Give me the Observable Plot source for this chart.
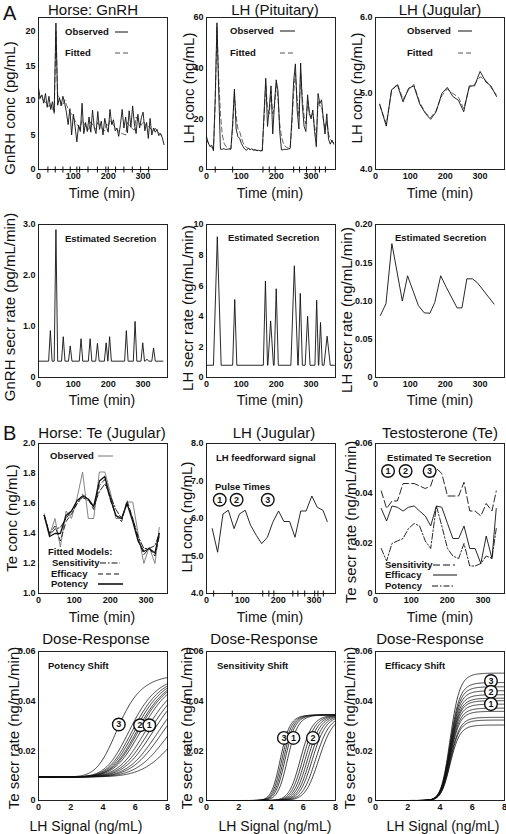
<!DOCTYPE html>
<html><head><meta charset="utf-8">
<script src="https://cdn.jsdelivr.net/npm/d3@7"></script>
<script src="https://cdn.jsdelivr.net/npm/@observablehq/plot@0.6"></script>
<style>
body{margin:0;background:#fff;}
#fig{position:relative;width:506px;height:834px;overflow:hidden;font-family:"Liberation Sans",Arial,sans-serif;color:#111;background:#fff;}
</style></head>
<body><div id="fig"></div>
<script>
// ---------------- DATA ----------------
// Panel A1: GnRH (pg/mL), 5-min samples
const gnrhTime = [0,5,10,15,20,25,30,35,40,45,50,55,60,65,70,75,80,85,90,95,100,105,110,115,120,125,130,135,140,145,150,155,160,165,170,175,180,185,190,195,200,205,210,215,220,225,230,235,240,245,250,255,260,265,270,275,280,285,290,295,300,305,310,315,320,325,330,335,340,345,350,355,360];
const gnrhObs = [11.8,10.3,10.8,9.6,11.0,9.0,10.6,8.7,9.8,8.3, 21.2,9.3,10.4,9.2,10.6,9.6,8.3,6.5,8.8,5.0, 8.0,6.2,4.0,6.4,5.5,9.6,5.2,6.8,5.5,7.6, 5.4,8.6,6.0,5.2,8.4,5.8,7.0,5.0,7.4,6.2, 5.4,8.7,6.5,7.2,5.6,6.0,4.8,6.5,8.7,6.0, 7.6,5.3,8.5,6.1,9.2,6.6,5.2,8.0,6.0,7.5, 8.3,5.6,6.8,4.5,7.4,5.0,6.0,5.4,5.8,4.9, 5.2,4.6,3.6];
const gnrhFit = [10.0,10.6,10.3,10.0,9.7,9.4,9.1,9.6,8.8,8.1, 20.0,10.8,10.2,9.7,9.3,10.1,9.4,8.8,8.3,8.0, 7.5,7.0,6.6,6.2,6.0,7.2,6.7,6.3,6.0,5.8, 6.9,6.5,6.1,5.8,6.8,6.4,6.1,5.8,5.6,6.6, 6.2,7.2,6.8,6.4,6.1,5.8,5.5,5.3,5.2,5.1, 5.0,6.8,6.4,6.1,5.9,5.7,7.6,7.1,6.7,6.4, 7.0,6.6,6.2,6.3,6.0,5.7,5.5,6.0,5.6,5.3, 5.1,4.9,4.8];
const gnrhPulseMarks = [27,48,70,91,110,118,142,169,193,200,221,245,269,293,316];

// Panel A2: LH pituitary (ng/mL), 5-min samples
const lhPitTime = [0,5,10,15,20,25,30,35,40,45,50,55,60,65,70,75,80,85,90,95,100,105,110,115,120,125,130,135,140,145,150,155,160,165,170,175,180,185,190,195,200,205,210,215,220,225,230,235,240,245,250,255,260,265,270,275,280,285,290,295,300,305,310,315,320,325,330,335,340,345,350,355,360,365];
const lhPitObs = [13.0,10.5,9.0,9.6,7.4,28.0,57.9,31.0,8.0,8.0, 8.2,7.9,8.0,8.1,8.0,18.0,31.7,16.0,13.0,12.3, 10.3,9.0,8.0,7.6,8.4,7.8,8.2,7.6,7.8,7.4, 7.6,7.3,7.5,22.0,36.0,17.0,24.0,33.0,14.0,26.0, 35.4,31.0,15.0,7.7,7.8,8.0,7.9,8.1,8.3,20.0, 35.0,41.7,23.5,16.0,42.0,25.0,17.0,15.0,29.5,22.0, 20.0,23.5,15.0,9.0,30.0,26.0,27.5,20.0,14.0,22.0, 12.0,10.0,11.6,10.0];
const lhPitFit = [12.0,10.5,9.4,8.8,8.4,26.0,56.0,36.0,22.0,14.0, 10.5,9.2,8.6,8.3,8.2,17.0,30.0,21.0,16.0,15.0, 12.5,10.5,9.3,8.7,8.3,8.1,7.9,7.8,7.7,7.6, 7.5,7.5,7.4,20.0,34.0,24.0,22.0,31.0,22.0,25.0, 34.0,28.0,18.0,13.0,10.5,9.3,8.7,8.4,8.2,18.0, 30.0,38.0,28.0,21.0,38.0,28.0,21.0,18.0,27.0,23.0, 21.0,22.0,17.0,13.0,27.0,25.0,25.0,20.0,16.0,19.0, 14.0,12.0,11.0,10.5];
const lhPulseMarks = [25,75,162,180,197,250,267,287,312,324,341];

// Panel A3: LH jugular (ng/mL)
const lhJugTime = [12,31,46,63,79,95,110,127,143,158,174,190,206,222,238,253,269,284,300,317,331,347];
const lhJugObs = [4.86,4.57,5.05,5.11,4.89,5.07,5.10,4.86,4.74,4.66,4.76,5.00,5.08,4.96,4.91,4.76,5.10,5.10,5.29,5.15,5.10,4.96];
const lhJugFit = [4.85,4.60,5.03,5.13,4.92,5.05,5.12,4.88,4.75,4.68,4.78,4.97,5.06,5.00,4.95,4.80,5.08,5.12,5.22,5.17,5.08,4.98];

// Panel A4: GnRH secretion pulses (pg/mL/min)
const gnrhSecBase = 0.32, gnrhSecStart = 0, gnrhSecEnd = 357;
const gnrhSecTimes = [34,50,71,91,122,148,169,194,204,252,277,299,311,330];
const gnrhSecHeights = [0.92,2.9,0.8,0.62,0.76,0.76,0.67,0.68,0.8,0.92,1.1,0.68,0.36,0.58];
const gnrhSecHalfWidth = [5,5,5,5,5,5,5,5,5,5,5,5,5,5];

// Panel A5: LH pituitary secretion pulses (ng/mL/min)
const lhSecBase = 0.8, lhSecStart = 0, lhSecEnd = 367;
const lhSecTimes = [31,81,169,184,200,252,269,290,316,327,346];
const lhSecHeights = [9.2,5.1,6.3,3.7,5.8,7.3,5.5,4.0,5.05,3.6,2.7];
const lhSecHalfWidth = [11,6,6,8,6,10,6,7,5,5,9];

// Panel A6: LH jugular secretion
const lhJugSecTime = [14,30,47,77,92,123,140,156,170,187,203,234,248,262,278,292,340];
const lhJugSecVal = [0.081,0.0965,0.175,0.100,0.133,0.094,0.0845,0.084,0.098,0.133,0.118,0.091,0.091,0.129,0.129,0.124,0.096];

// Panel B: jugular sampling grid
const teTime = [16,31,46,61,77,92,108,123,139,154,170,185,201,216,232,247,263,278,294,309,325,337];
const teObs = [1.53,1.39,1.50,1.31,1.55,1.50,1.64,1.81,1.50,1.50,1.81,1.81,1.67,1.50,1.50,1.61,1.61,1.40,1.20,1.31,1.20,1.44];
const teFitSens = [1.52,1.39,1.43,1.44,1.50,1.55,1.60,1.64,1.62,1.58,1.68,1.73,1.65,1.56,1.50,1.60,1.50,1.38,1.30,1.30,1.32,1.40];
const teFitEff = [1.52,1.40,1.45,1.35,1.48,1.53,1.60,1.66,1.63,1.56,1.72,1.76,1.62,1.52,1.48,1.62,1.50,1.36,1.26,1.30,1.25,1.38];
const teFitPot = [1.52,1.38,1.40,1.40,1.52,1.55,1.62,1.65,1.63,1.58,1.75,1.78,1.63,1.52,1.50,1.60,1.48,1.35,1.28,1.30,1.27,1.40];

const lhFeed = [5.73,5.10,6.12,6.22,5.73,6.12,6.22,5.82,5.55,5.33,5.50,5.90,6.20,5.92,5.92,5.50,6.20,6.20,6.60,6.30,6.22,5.92];
const lhFeedPulseMarks = [20,72,157,174,188,241,255,274,302,311,326];
const pulseLabelsB2 = [{k:"1",t:37,v:6.5},{k:"2",t:84,v:6.5},{k:"3",t:171,v:6.5}];

const teSecSens = [0.041,0.034,0.037,0.037,0.044,0.044,0.044,0.043,0.042,0.043,0.050,0.048,0.039,0.039,0.039,0.0445,0.033,0.033,0.031,0.036,0.033,0.041];
const teSecEff = [0.034,0.029,0.035,0.0345,0.033,0.0345,0.035,0.033,0.031,0.027,0.035,0.0345,0.028,0.022,0.022,0.027,0.018,0.018,0.012,0.023,0.014,0.034];
const teSecPot = [0.018,0.013,0.020,0.021,0.022,0.026,0.028,0.027,0.021,0.018,0.035,0.027,0.018,0.015,0.014,0.020,0.011,0.011,0.012,0.015,0.014,0.026];
const pulseLabelsB3 = [{k:"1",t:35,v:0.049},{k:"2",t:84,v:0.049},{k:"3",t:151,v:0.049}];

// Dose-response (Hill model parameters)
const potencyEC50 = [5.0,5.8,6.0,6.15,6.3,6.4,6.55,6.85,7.1,7.35,7.7,8.0,8.5,9.2];
const potencyBase = 0.0095, potencyTop = 0.051, potencyHill = 7;
const potencyLabels = [{k:"3",x:4.98,y:0.0306},{k:"2",x:6.3,y:0.0303},{k:"1",x:6.87,y:0.0303}];

const sensEC50 = [4.6,4.7,4.8,4.9,5.05,5.85,6.0,6.15,6.3,6.45,6.6,6.8,7.0];
const sensBase = 0, sensTop = 0.0345, sensHill = 16;
const sensLabels = [{k:"3",x:4.8,y:0.0252},{k:"1",x:5.39,y:0.0252},{k:"2",x:6.6,y:0.0252}];

const effTop = [0.0513,0.0475,0.0458,0.0442,0.0426,0.0412,0.0402,0.0388,0.0372,0.0359,0.0335,0.0324,0.0304];
const effBase = 0, effEC50 = 4.65, effHill = 16;
const effLabels = [{k:"3",x:7.16,y:0.0481},{k:"2",x:7.16,y:0.0438},{k:"1",x:7.16,y:0.0388}];

// Tick values
const timeTicks = [0,100,200,300];
const doseTicks = [0,2,4,6,8];
const gnrhTicks = [0,5,10,15,20];
const lhPitTicks = [0,20,40,60];
const lhJugTicks = [4,5,6];
const gnrhSecTicks = [0,1,2,3];
const lhSecTicks = [0,2,4,6,8,10];
const lhJugSecTicks = [0,0.05,0.10,0.15,0.20];
const teTicks = [1.0,1.2,1.4,1.6,1.8,2.0];
const lhFeedTicks = [4,5,6,7,8];
const teSecTicks = [0,0.02,0.04,0.06];

// ---------------- LAYOUT ----------------
const fig = document.getElementById("fig");
const COLS = [[38,167],[206,335],[375,504]];
const ROWS = [[17,169],[224,377],[443,593],[651,800]];
const FONT = '"Liberation Sans", Arial, sans-serif';
const INK = "#111";

const fmtInt = d3.format("d");
const fmt1 = v => v === 0 ? "0" : v.toFixed(1);
const fmt1all = v => v.toFixed(1);
const fmt2 = v => v === 0 ? "0" : v.toFixed(2);

function panel(col, row, xs, ys, marks) {
  const [fl, fr] = COLS[col], [ft, fb] = ROWS[row];
  const ml = 36, mr = 2, mt = 4, mb = 16;
  const svg = Plot.plot({
    width: ml + (fr - fl) + mr, height: mt + (fb - ft) + mb,
    marginLeft: ml, marginRight: mr, marginTop: mt, marginBottom: mb,
    style: {fontFamily: FONT, fontSize: "9px", fontWeight: "bold", color: INK, background: "transparent", overflow: "visible"},
    x: {domain: xs.domain}, y: {domain: ys.domain},
    marks: [
      Plot.frame({stroke: "#222", strokeWidth: 1}),
      Plot.axisX({ticks: xs.ticks, tickFormat: xs.format, tickSize: 0, tickPadding: 3, label: null}),
      Plot.axisY({ticks: ys.ticks, tickFormat: ys.format, tickSize: 0, tickPadding: 3, label: null}),
      ...marks
    ]
  });
  svg.style.position = "absolute";
  svg.style.left = (fl - ml) + "px";
  svg.style.top = (ft - mt) + "px";
  fig.appendChild(svg);
}

function label(text, x, y, o = {}) {
  const d = document.createElement("div");
  d.textContent = text;
  const size = o.size || 15, weight = o.weight || "normal", anchor = o.anchor || "middle";
  d.style.cssText = `position:absolute;left:${x}px;top:${y}px;font-size:${size}px;font-weight:${weight};white-space:nowrap;line-height:1;transform:translate(${anchor === "middle" ? "-50%" : "0"},-50%)${o.rotate ? " rotate(-90deg)" : ""};`;
  fig.appendChild(d);
}
function legLine(x1, x2, y, dash, w = 1, color = INK) {
  const ns = "http://www.w3.org/2000/svg";
  const s = document.createElementNS(ns, "svg");
  s.setAttribute("width", x2 - x1); s.setAttribute("height", 6);
  s.style.cssText = `position:absolute;left:${x1}px;top:${y - 3}px;`;
  const l = document.createElementNS(ns, "line");
  l.setAttribute("x1", 0); l.setAttribute("x2", x2 - x1); l.setAttribute("y1", 3); l.setAttribute("y2", 3);
  l.setAttribute("stroke", color); l.setAttribute("stroke-width", w);
  if (dash) l.setAttribute("stroke-dasharray", dash);
  s.appendChild(l); fig.appendChild(s);
}

const zip = (ts, ...series) => ts.map((t, i) => Object.fromEntries([["t", t], ...series.map((s, j) => ["v" + j, s[i]])]));
function pulseSeries(start, end, base, times, heights, hw) {
  const pts = [{t: start, v: base}];
  times.forEach((t, i) => { pts.push({t: t - hw[i], v: base}, {t, v: heights[i]}, {t: t + hw[i], v: base}); });
  pts.push({t: end, v: base});
  return pts;
}
const marksAt = (times, v) => times.map(t => ({t, v}));
const doseGrid = d3.range(0, 8.0001, 0.04);
const hill = (x, b, top, e, n) => b + (top - b) * Math.pow(x, n) / (Math.pow(x, n) + Math.pow(e, n));
function curves(params, f) { return params.flatMap((p, i) => doseGrid.map(x => ({id: i, x, y: f(x, p)}))); }

const DASH = "5,3", DASHDOT = "6,2,1.5,2";
const lineOpts = (y, extra = {}) => ({x: "t", y, stroke: INK, strokeWidth: 0.9, ...extra});
const circles = (data, x, y) => [
  Plot.dot(data, {x, y, r: 6.3, fill: "white", stroke: INK, strokeWidth: 1.4}),
  Plot.text(data, {x, y, text: "k", fontSize: 9, fontWeight: "bold", fill: INK})
];
const plusOpts = {x: "t", y: "v", symbol: "plus", r: 2.1, stroke: INK, strokeWidth: 1};

const xTime = {domain: [0, 370], ticks: timeTicks, format: fmtInt};
const xTimeB = {domain: [0, 360], ticks: timeTicks, format: fmtInt};
const xDose = {domain: [0, 8], ticks: doseTicks, format: fmtInt};

// Row 1
const gnrhData = zip(gnrhTime, gnrhObs, gnrhFit);
panel(0, 0, xTime, {domain: [0, 22], ticks: gnrhTicks, format: fmtInt}, [
  Plot.line(gnrhData, lineOpts("v1", {stroke: "#555", strokeDasharray: DASH})),
  Plot.line(gnrhData, lineOpts("v0")),
  Plot.dot(marksAt(gnrhPulseMarks, 0), plusOpts)
]);
const lhPitData = zip(lhPitTime, lhPitObs, lhPitFit);
panel(1, 0, xTime, {domain: [0, 60], ticks: lhPitTicks, format: fmtInt}, [
  Plot.line(lhPitData, lineOpts("v1", {stroke: "#555", strokeDasharray: DASH})),
  Plot.line(lhPitData, lineOpts("v0")),
  Plot.dot(marksAt(lhPulseMarks, 0), plusOpts)
]);
const lhJugData = zip(lhJugTime, lhJugObs, lhJugFit);
panel(2, 0, xTime, {domain: [4, 6], ticks: lhJugTicks, format: fmt1all}, [
  Plot.line(lhJugData, lineOpts("v1", {stroke: "#555", strokeDasharray: DASH})),
  Plot.line(lhJugData, lineOpts("v0"))
]);

// Row 2
panel(0, 1, xTime, {domain: [0, 3], ticks: gnrhSecTicks, format: fmt1}, [
  Plot.line(pulseSeries(gnrhSecStart, gnrhSecEnd, gnrhSecBase, gnrhSecTimes, gnrhSecHeights, gnrhSecHalfWidth), lineOpts("v"))
]);
panel(1, 1, xTime, {domain: [0, 10], ticks: lhSecTicks, format: fmtInt}, [
  Plot.line(pulseSeries(lhSecStart, lhSecEnd, lhSecBase, lhSecTimes, lhSecHeights, lhSecHalfWidth), lineOpts("v"))
]);
panel(2, 1, xTime, {domain: [0, 0.2], ticks: lhJugSecTicks, format: fmt2}, [
  Plot.line(zip(lhJugSecTime, lhJugSecVal), lineOpts("v0"))
]);

// Row 3
const teData = zip(teTime, teObs, teFitSens, teFitEff, teFitPot);
panel(0, 2, xTimeB, {domain: [1, 2], ticks: teTicks, format: fmt1all}, [
  Plot.line(teData, lineOpts("v0", {stroke: "#777", strokeWidth: 0.9})),
  Plot.line(teData, lineOpts("v1", {strokeDasharray: DASHDOT})),
  Plot.line(teData, lineOpts("v2", {strokeDasharray: DASH})),
  Plot.line(teData, lineOpts("v3", {strokeWidth: 1.3}))
]);
panel(1, 2, xTimeB, {domain: [4, 8], ticks: lhFeedTicks, format: fmt1all}, [
  Plot.line(zip(teTime, lhFeed), lineOpts("v0")),
  Plot.dot(marksAt(lhFeedPulseMarks, 4), plusOpts),
  ...circles(pulseLabelsB2, "t", "v")
]);
const teSecData = zip(teTime, teSecSens, teSecEff, teSecPot);
panel(2, 2, xTimeB, {domain: [0, 0.06], ticks: teSecTicks, format: fmt2}, [
  Plot.line(teSecData, lineOpts("v0", {strokeDasharray: "7,3"})),
  Plot.line(teSecData, lineOpts("v1")),
  Plot.line(teSecData, lineOpts("v2", {strokeDasharray: DASHDOT})),
  ...circles(pulseLabelsB3, "t", "v")
]);

// Row 4
panel(0, 3, xDose, {domain: [0, 0.06], ticks: teSecTicks, format: fmt2}, [
  Plot.line(curves(potencyEC50, (x, e) => hill(x, potencyBase, potencyTop, e, potencyHill)), {x: "x", y: "y", z: "id", stroke: INK, strokeWidth: 0.8}),
  ...circles(potencyLabels, "x", "y")
]);
panel(1, 3, xDose, {domain: [0, 0.06], ticks: teSecTicks, format: fmt2}, [
  Plot.line(curves(sensEC50, (x, e) => hill(x, sensBase, sensTop, e, sensHill)), {x: "x", y: "y", z: "id", stroke: INK, strokeWidth: 0.8}),
  ...circles(sensLabels, "x", "y")
]);
panel(2, 3, xDose, {domain: [0, 0.06], ticks: teSecTicks, format: fmt2}, [
  Plot.line(curves(effTop, (x, m) => hill(x, effBase, m, effEC50, effHill)), {x: "x", y: "y", z: "id", stroke: INK, strokeWidth: 0.8}),
  ...circles(effLabels, "x", "y")
]);

// ---------------- TEXT ----------------
label("A", 3, 13, {size: 20, anchor: "start"});
label("B", 3, 433, {size: 20, anchor: "start"});
// titles
label("Horse: GnRH", 93, 9);
label("LH (Pituitary)", 275, 9);
label("LH (Jugular)", 440, 9);
label("Horse: Te (Jugular)", 102, 432);
label("LH (Jugular)", 274, 432);
label("Testosterone (Te)", 440, 432);
label("Dose-Response", 96, 638);
label("Dose-Response", 264, 638);
label("Dose-Response", 430, 638);
// x labels
for (const [cx] of [[102],[270],[440]]) {
  label("Time (min)", cx, 193, {size: 14});
  label("Time (min)", cx, 400, {size: 14});
  label("Time (min)", cx, 617, {size: 14});
}
label("LH Signal (ng/mL)", 86, 826, {size: 14});
label("LH Signal (ng/mL)", 275, 826, {size: 14});
label("LH Signal (ng/mL)", 443, 826, {size: 14});
// y labels
label("GnRH conc (pg/mL)", 9, 108, {rotate: true});
label("LH conc (ng/mL)", 188, 88, {rotate: true});
label("LH conc (ng/mL)", 356, 88, {rotate: true});
label("GnRH secr rate (pg/mL/min)", 9, 307, {rotate: true});
label("LH secr rate (ng/mL/min)", 187, 308, {rotate: true});
label("LH secr rate (ng/mL/min)", 346, 310, {rotate: true});
label("Te conc (ng/mL)", 11, 518, {rotate: true});
label("LH conc (ng/mL)", 186, 517, {rotate: true});
label("Te secr rate (ng/mL/min)", 350, 522, {rotate: true});
label("Te secr rate (ng/mL/min)", 13, 728, {rotate: true});
label("Te secr rate (ng/mL/min)", 186, 728, {rotate: true});
label("Te secr rate (ng/mL/min)", 349, 728, {rotate: true});
// in-panel legends and notes
const B = {size: 9.5, weight: "bold", anchor: "start"};
label("Observed", 65, 32, B); legLine(115, 128, 32, null);
label("Fitted", 65, 53, B); legLine(115, 128, 53, DASH, 1, "#555");
label("Observed", 230, 31, B); legLine(280, 295, 31, null);
label("Fitted", 230, 53, B); legLine(280, 295, 53, DASH, 1, "#555");
label("Observed", 407, 31, B); legLine(458, 472, 31, null);
label("Fitted", 407, 53, B); legLine(458, 472, 53, DASH, 1, "#555");
label("Estimated Secretion", 65, 239, B);
label("Estimated Secretion", 228, 238, B);
label("Estimated Secretion", 395, 238, B);
label("Observed", 50, 456, B); legLine(98, 113, 456, null, 1, "#777");
label("Fitted Models:", 48, 552, B);
label("Sensitivity", 52, 563, B); legLine(100, 120, 563, DASHDOT);
label("Efficacy", 51, 574, B); legLine(98, 120, 574, DASH);
label("Potency", 51, 584, B); legLine(98, 123, 584, null, 1.6);
label("LH feedforward signal", 216, 458, B);
label("Pulse Times", 215, 487, B);
label("Estimated Te Secretion", 387, 458, B);
label("Sensitivity", 385, 565, B); legLine(433, 455, 565, "7,3");
label("Efficacy", 385, 575, B); legLine(433, 457, 575, null);
label("Potency", 385, 586, B); legLine(432, 455, 586, DASHDOT);
label("Potency Shift", 48, 666, B);
label("Sensitivity Shift", 217, 666, B);
label("Efficacy Shift", 385, 666, B);
</script>
</body></html>
